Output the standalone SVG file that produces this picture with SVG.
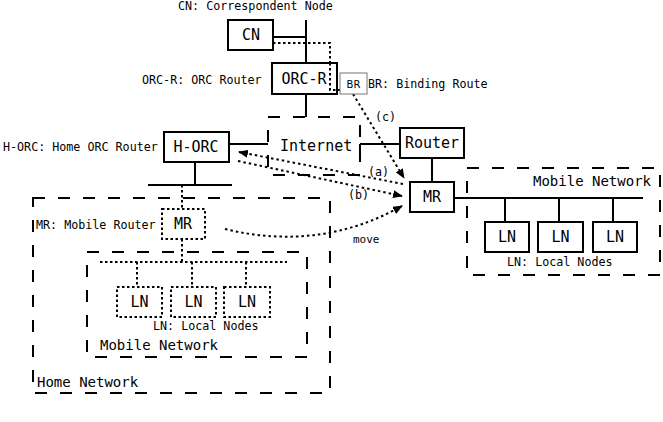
<svg xmlns="http://www.w3.org/2000/svg" width="663" height="422" viewBox="0 0 663 422">
<defs>
<marker id="ah" markerWidth="10" markerHeight="8" refX="9" refY="4" orient="auto" markerUnits="userSpaceOnUse">
<path d="M0,0 L10,4 L0,8 Z" fill="#000"/>
</marker>
<style>
.box{fill:#fff;stroke:#000;stroke-width:2}
.dbox{fill:#fff;stroke:#000;stroke-width:2;stroke-dasharray:2.5 2.5}
.net{fill:none;stroke:#000;stroke-width:2;stroke-dasharray:12 13}
.ln{fill:none;stroke:#000;stroke-width:2}
.dot{fill:none;stroke:#000;stroke-width:2;stroke-dasharray:2.5 2.5}
.arr{fill:none;stroke:#000;stroke-width:2;stroke-dasharray:2.5 3;marker-end:url(#ah)}
.lbl{font-family:"DejaVu Sans Mono",monospace;font-size:15px;text-anchor:middle;fill:#000}
.sm{font-family:"DejaVu Sans Mono",monospace;font-size:11.7px;fill:#000}
.nt{font-family:"DejaVu Sans Mono",monospace;font-size:14px;fill:#000}
</style>
</defs>
<rect width="663" height="422" fill="#fff"/>

<g id="networks">
<rect id="internet" class="net" x="268" y="117" width="92" height="58"/>
<rect id="home-network" class="net" x="33" y="198" width="297" height="195"/>
<rect id="mobile-network-home" class="net" x="87" y="252" width="220" height="105"/>
<rect id="mobile-network-visited" class="net" x="467" y="168" width="193" height="107"/>
<text class="nt" x="280" y="151" style="font-size:15px">Internet</text>
<text class="nt" x="37" y="387">Home Network</text>
<text class="nt" x="100" y="350">Mobile Network</text>
<text class="nt" x="533" y="186">Mobile Network</text>
</g>

<g id="connectors">
<path class="ln" d="M306,20 V63 M273,37 H306 M306,94 V117"/>
<path class="ln" d="M229,144 H268"/>
<path class="ln" d="M195,162 V185 M148,185 H232"/>
<path class="ln" d="M360,144 H400 M360,144 V154"/>
<path class="ln" d="M432,158 V182"/>
<path class="ln" d="M454,198 H643 M505,198 V222 M559,198 V222 M613,198 V222"/>
<path class="dot" d="M273,43 H330 V90 H342"/>
<path class="dot" d="M182,185 V209 M182,239 V262 M100,262 H287 M137,262 V287 M192,262 V287 M246,262 V287"/>
<path id="arrow-a" class="arr" d="M403,184 L239,152"/>
<path id="arrow-b" class="arr" d="M238,161 L402,196"/>
<path id="arrow-c" class="arr" d="M353,94 L404,178"/>
<path id="arrow-move" class="arr" d="M225,229 Q320,252 402,206"/>
<text class="sm" x="368" y="176">(a)</text>
<text class="sm" x="348" y="199">(b)</text>
<text class="sm" x="375" y="121">(c)</text>
<text class="sm" x="353" y="243" style="font-size:11px">move</text>
</g>

<g id="cn">
<rect class="box" x="228" y="20" width="45" height="30"/>
<text class="lbl" x="251" y="40">CN</text>
<text class="sm" x="178" y="10">CN: Correspondent Node</text>
</g>

<g id="orc-r">
<rect class="box" x="272" y="63" width="65" height="31"/>
<path class="dot" d="M330,63 V90 H342"/>
<text class="lbl" x="304" y="84">ORC-R</text>
<text class="sm" x="142" y="84">ORC-R: ORC Router</text>
</g>

<g id="br">
<rect x="340" y="73" width="27" height="21" fill="#fff" stroke="#777" stroke-width="1"/>
<text x="353.5" y="88" style="font-family:'DejaVu Sans',sans-serif;font-size:10px;text-anchor:middle">BR</text>
<text class="sm" x="368" y="88">BR: Binding Route</text>
</g>

<g id="h-orc">
<rect class="box" x="164" y="132" width="65" height="30"/>
<text class="lbl" x="196" y="152">H-ORC</text>
<text class="sm" x="3" y="151">H-ORC: Home ORC Router</text>
</g>

<g id="router">
<rect class="box" x="400" y="128" width="64" height="30"/>
<text class="lbl" x="432" y="148">Router</text>
</g>

<g id="mr-visited">
<rect class="box" x="410" y="182" width="44" height="30"/>
<text class="lbl" x="432" y="202">MR</text>
</g>

<g id="mr-home">
<rect class="dbox" x="162" y="209" width="43" height="30"/>
<text class="lbl" x="183" y="229">MR</text>
<text class="sm" x="36" y="229">MR: Mobile Router</text>
</g>

<g id="ln-home-1"><rect class="dbox" x="117" y="287" width="45" height="30"/><text class="lbl" x="139.5" y="307">LN</text></g>
<g id="ln-home-2"><rect class="dbox" x="171" y="287" width="45" height="30"/><text class="lbl" x="193.5" y="307">LN</text></g>
<g id="ln-home-3"><rect class="dbox" x="224" y="287" width="46" height="30"/><text class="lbl" x="247" y="307">LN</text></g>
<text class="sm" x="153" y="330">LN: Local Nodes</text>

<g id="ln-vis-1"><rect class="box" x="485" y="222" width="44" height="30"/><text class="lbl" x="507" y="242">LN</text></g>
<g id="ln-vis-2"><rect class="box" x="538" y="222" width="45" height="30"/><text class="lbl" x="560.5" y="242">LN</text></g>
<g id="ln-vis-3"><rect class="box" x="593" y="222" width="44" height="30"/><text class="lbl" x="615" y="242">LN</text></g>
<text class="sm" x="507" y="266">LN: Local Nodes</text>
</svg>
